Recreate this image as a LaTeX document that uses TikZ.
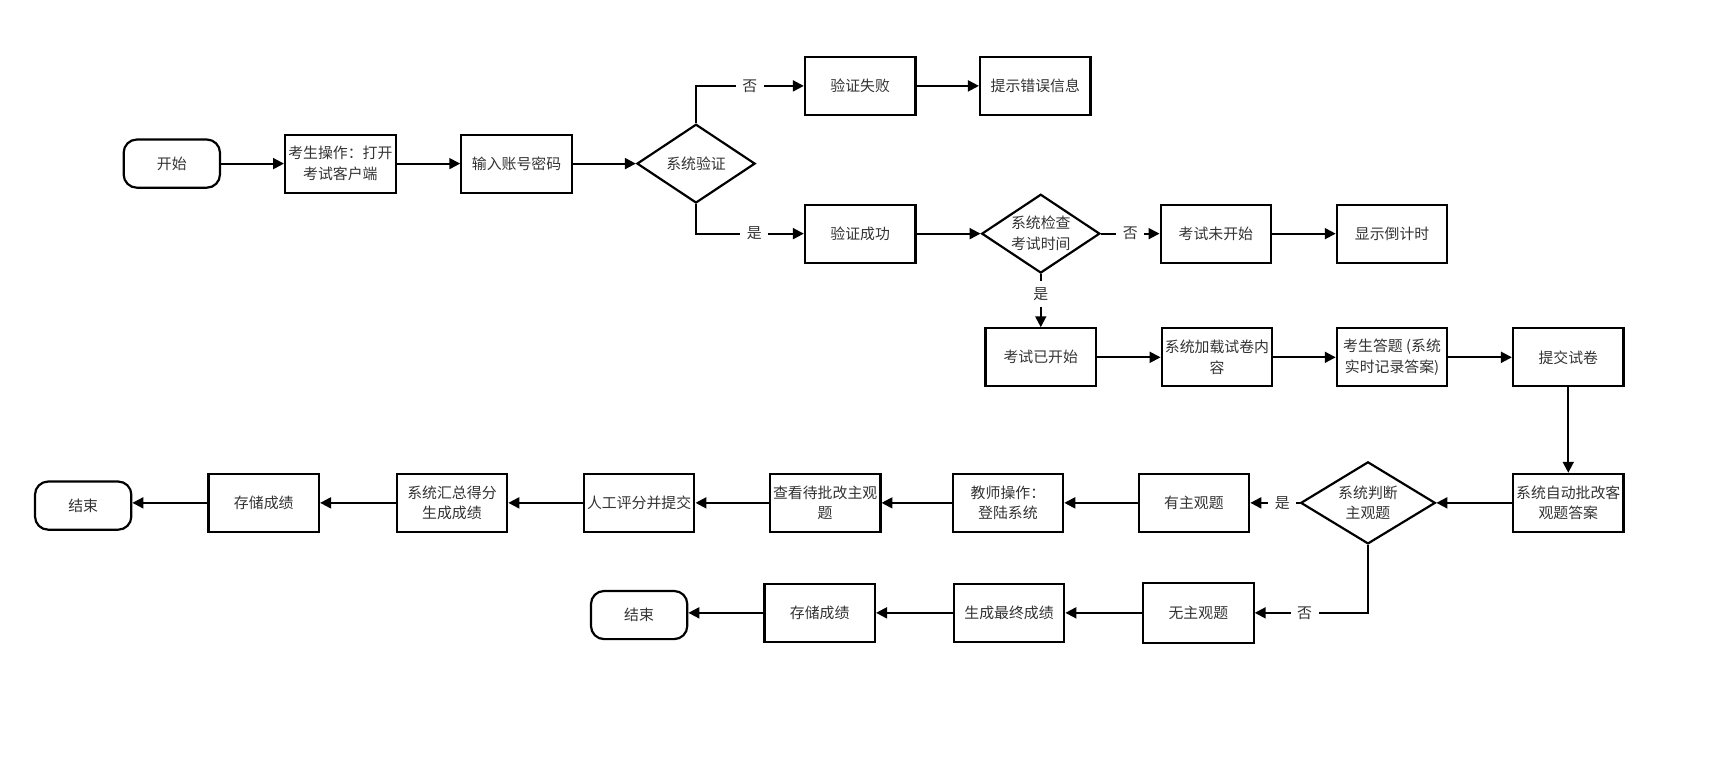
\documentclass[tikz,border=0pt]{standalone}
\usepackage{fontspec}
\newfontfamily\cjk{Noto Sans CJK SC}
\usetikzlibrary{shapes.geometric,arrows.meta}
\definecolor{txt}{HTML}{333333}
\begin{document}
\begin{tikzpicture}[x=0.5pt,y=-0.5pt,
  every node/.style={font=\cjk\fontsize{6.8}{9.5}\selectfont, text=txt, align=center},
  proc/.style={draw=black, line width=1pt, minimum width=50.5pt, minimum height=26.5pt, inner sep=1pt},
  term/.style={draw=black, line width=1pt, rounded corners=6pt, minimum width=44pt, minimum height=22pt, inner sep=1pt},
  dec/.style={draw=black, line width=1pt, diamond, inner sep=0pt},
  lbl/.style={fill=white, inner sep=3pt},
  flow/.style={line width=0.9pt, -{Triangle[length=5pt,width=5pt]}}
]
\useasboundingbox (0,0) rectangle (1568,710);
% top row
\node[term] (start) at (157,149.5) {开始};
\node[proc] (op) at (311,149.5) {考生操作：打开\\考试客户端};
\node[proc] (input) at (472,149.5) {输入账号密码};
\node[dec, minimum width=54pt, minimum height=36pt] (v) at (636,149.5) {};
\node at (v) {系统验证};
\node[proc] (fail) at (786,78.5) {验证失败};
\node[proc] (hint) at (946,78.5) {提示错误信息};
\node[proc] (succ) at (786,213.5) {验证成功};
\node[dec, minimum width=54pt, minimum height=36pt] (check) at (951,213.5) {};
\node at (check) {系统检查\\考试时间};
\node[proc] (notyet) at (1111,213.5) {考试未开始};
\node[proc] (count) at (1272,213.5) {显示倒计时};
% second row
\node[proc] (started) at (951,326.5) {考试已开始};
\node[proc] (load) at (1112,326.5) {系统加载试卷内\\容};
\node[proc] (answer) at (1272,326.5) {考生答题 (系统\\实时记录答案)};
\node[proc] (submit) at (1433,326.5) {提交试卷};
% third row
\node[proc] (auto) at (1433,459.5) {系统自动批改客\\观题答案};
\node[dec, minimum width=61.5pt, minimum height=37.5pt] (judge) at (1250,459.5) {};
\node at (judge) {系统判断\\主观题};
\node[proc] (has) at (1091,459.5) {有主观题};
\node[proc] (teacher) at (921,459.5) {教师操作：\\登陆系统};
\node[proc] (view) at (754,459.5) {查看待批改主观\\题};
\node[proc] (manual) at (584,459.5) {人工评分并提交};
\node[proc] (sum) at (413,459.5) {系统汇总得分\\生成成绩};
\node[proc] (store1) at (241,459.5) {存储成绩};
\node[term] (end1) at (76,462) {结束};
% fourth row
\node[proc, minimum height=27.5pt] (none) at (1095,560) {无主观题};
\node[proc] (final) at (922,560) {生成最终成绩};
\node[proc] (store2) at (749,560) {存储成绩};
\node[term] (end2) at (584,562) {结束};
% connectors
\draw[flow] (start) -- (op);
\draw[flow] (op) -- (input);
\draw[flow] (input.east) -- (v.west);
\draw[flow] (v.north) |- node[lbl, pos=0.75] {否} (fail.west);
\draw[flow] (v.south) |- node[lbl, pos=0.77] {是} (succ.west);
\draw[flow] (fail) -- (hint);
\draw[flow] (succ.east) -- (check.west);
\draw[flow] (check.east) -- node[lbl] {否} (notyet.west);
\draw[flow] (notyet) -- (count);
\draw[flow] (check.south) -- node[lbl, pos=0.38] {是} (started.north);
\draw[flow] (started) -- (load);
\draw[flow] (load) -- (answer);
\draw[flow] (answer) -- (submit);
\draw[flow] (submit.south) -- (auto.north);
\draw[flow] (auto.west) -- (judge.east);
\draw[flow] (judge.west) -- node[lbl, pos=0.35] {是} (has.east);
\draw[flow] (has) -- (teacher);
\draw[flow] (teacher) -- (view);
\draw[flow] (view) -- (manual);
\draw[flow] (manual) -- (sum);
\draw[flow] (sum) -- (store1);
\draw[flow] (store1.west) -- (end1.east |- store1.west);
\draw[flow] (judge.south) |- node[lbl, pos=0.78] {否} (none.east);
\draw[flow] (none) -- (final);
\draw[flow] (final) -- (store2);
\draw[flow] (store2.west) -- (end2.east |- store2.west);
\end{tikzpicture}
\end{document}
